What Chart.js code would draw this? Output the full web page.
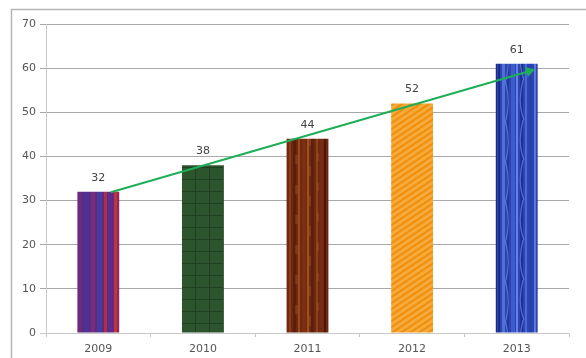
<!DOCTYPE html>
<html><head><meta charset="utf-8">
<script src="https://cdn.jsdelivr.net/npm/chart.js@4/dist/chart.umd.min.js"></script>
<style>html,body{margin:0;padding:0;background:#fff}#wrap{width:586px;height:358px}</style>
</head><body><div id="wrap"><canvas id="c" width="586" height="358"></canvas></div>
<script>
const categories = ['2009','2010','2011','2012','2013'];
const values = [32, 38, 44, 52, 61];
const trendX = [0.12, 4.12];
const trendY = [31.9, 59.3];
const yTicks = [0,10,20,30,40,50,60,70];

function mk(w,h,draw){const c=document.createElement('canvas');c.width=w;c.height=h;const g=c.getContext('2d');draw(g,w,h);return c;}
const ctx0=document.getElementById('c').getContext('2d');
function pat(canvas,dx){const p=ctx0.createPattern(canvas,'repeat');if(dx&&p.setTransform)p.setTransform(new DOMMatrix().translate(dx,0));return p;}

const p2009 = pat(mk(42,8,(g,w,h)=>{
  g.fillStyle='#5a2b84';g.fillRect(0,0,w,h);
  const s=[[0,4,'#6c2a7e'],[6,5,'#4d3296'],[13,4,'#7a2c78'],[19,5,'#463a9c'],[26,3,'#b52d45'],[30,4,'#5a2e8c'],[36,3,'#c8303c'],[39,3,'#8a2c60']];
  s.forEach(([x,ww,c])=>{g.fillStyle=c;g.fillRect(x,0,ww,h);});
}),78);
const p2010 = pat(mk(14,12,(g,w,h)=>{
  g.fillStyle='#2c552d';g.fillRect(0,0,w,h);
  g.fillStyle='#203f21';g.fillRect(0,11,w,1);g.fillRect(13,0,1,h);
}));
const p2011 = pat(mk(41,30,(g,w,h)=>{
  g.fillStyle='#6e2a10';g.fillRect(0,0,w,h);
  const s=[[2,2,'#8a3a16'],[6,3,'#5a1e0a'],[11,2,'#9a4a1e'],[15,4,'#7c3012'],[20,2,'#a2501f'],[24,3,'#5e200a'],[29,2,'#8e4018'],[33,3,'#7a2c10'],[37,2,'#4e1806']];
  s.forEach(([x,ww,c])=>{g.fillStyle=c;g.fillRect(x,0,ww,h);});
  g.fillStyle='rgba(170,90,40,0.35)';g.fillRect(8,5,3,9);g.fillRect(22,16,2,10);g.fillRect(30,3,2,8);
}));
const p2012 = pat(mk(18,18,(g,w,h)=>{
  g.fillStyle='#ef8f0c';g.fillRect(0,0,w,h);
  g.strokeStyle='#f7aa3c';g.lineWidth=3;
  for(let k=-2;k<=2;k++){g.beginPath();g.moveTo(k*9-9,h+3);g.lineTo(k*9+w+9,-3);g.stroke();}
}));
const p2013 = pat(mk(42,40,(g,w,h)=>{
  g.fillStyle='#2b45b5';g.fillRect(0,0,w,h);
  const s=[[1,2,'#1b2c86'],[5,3,'#4f6fda'],[10,2,'#23379c'],[14,4,'#3d5ccc'],[19,2,'#6582e4'],[23,3,'#1f3294'],[28,2,'#4a68d6'],[32,3,'#2a40aa'],[37,2,'#5b78e0'],[40,2,'#1b2c86']];
  s.forEach(([x,ww,c])=>{g.fillStyle=c;g.fillRect(x,0,ww,h);});
  g.strokeStyle='rgba(140,165,240,0.5)';g.lineWidth=1.2;
  g.beginPath();g.moveTo(8,0);g.quadraticCurveTo(14,20,9,40);g.stroke();
  g.beginPath();g.moveTo(26,0);g.quadraticCurveTo(20,22,27,40);g.stroke();
}),497);
const fills=[p2009,p2010,p2011,p2012,p2013];

const frame = {id:'frame',beforeDraw(ch){const g=ch.ctx;g.save();g.fillStyle='#fff';g.fillRect(0,0,ch.width,ch.height);
  g.strokeStyle='#b4b4b4';g.lineWidth=1.5;g.beginPath();g.moveTo(11.5,358);g.lineTo(11.5,9.5);g.lineTo(586,9.5);g.stroke();g.restore();}};
const labels = {id:'labels',afterDatasetsDraw(ch){const g=ch.ctx;const m=ch.getDatasetMeta(0);g.save();
  g.font='11px "DejaVu Sans"';g.fillStyle='#444';g.textAlign='center';g.textBaseline='middle';
  m.data.forEach((b,i)=>{g.fillText(String(values[i]),b.x,b.y-14);});g.restore();}};

new Chart(document.getElementById('c'),{
  type:'bar',
  data:{labels:categories,datasets:[
    {type:'bar',data:values,backgroundColor:fills,borderWidth:0,grouped:false,barPercentage:0.8,categoryPercentage:0.5,order:2},
    {type:'line',xAxisID:'x2',data:trendX.map((x,i)=>({x:x,y:trendY[i]})),borderColor:'#1fae58',borderWidth:2,
     pointRadius:[0,4],pointStyle:'triangle',rotation:74,pointBackgroundColor:'#1fae58',pointBorderColor:'#1fae58',order:1,tension:0}
  ]},
  options:{responsive:false,animation:false,
    layout:{padding:{left:12,top:24,right:17,bottom:0}},
    plugins:{legend:{display:false},tooltip:{enabled:false}},
    scales:{
      x:{type:'category',offset:true,
        grid:{offset:true,drawOnChartArea:false,drawTicks:true,tickLength:4,color:'#c4c4c4'},
        border:{display:true,color:'#c8c8c8'},
        ticks:{font:{family:'DejaVu Sans',size:11},color:'#555',padding:6},
        afterFit(s){s.height=25;}},
      x2:{type:'linear',display:false,offset:false,min:-0.5,max:4.5},
      y:{min:0,max:70,
        afterBuildTicks(s){s.ticks=yTicks.map(v=>({value:v}));},
        grid:{color:(c)=>c.tick&&c.tick.value===0?'#c8c8c8':'#a8a8a8',tickLength:6,lineWidth:1},
        border:{display:true,color:'#c8c8c8'},
        ticks:{font:{family:'DejaVu Sans',size:11},color:'#555',padding:4},
        afterFit(s){s.width=34;}}
    }},
  plugins:[frame,labels]
});
</script></body></html>
